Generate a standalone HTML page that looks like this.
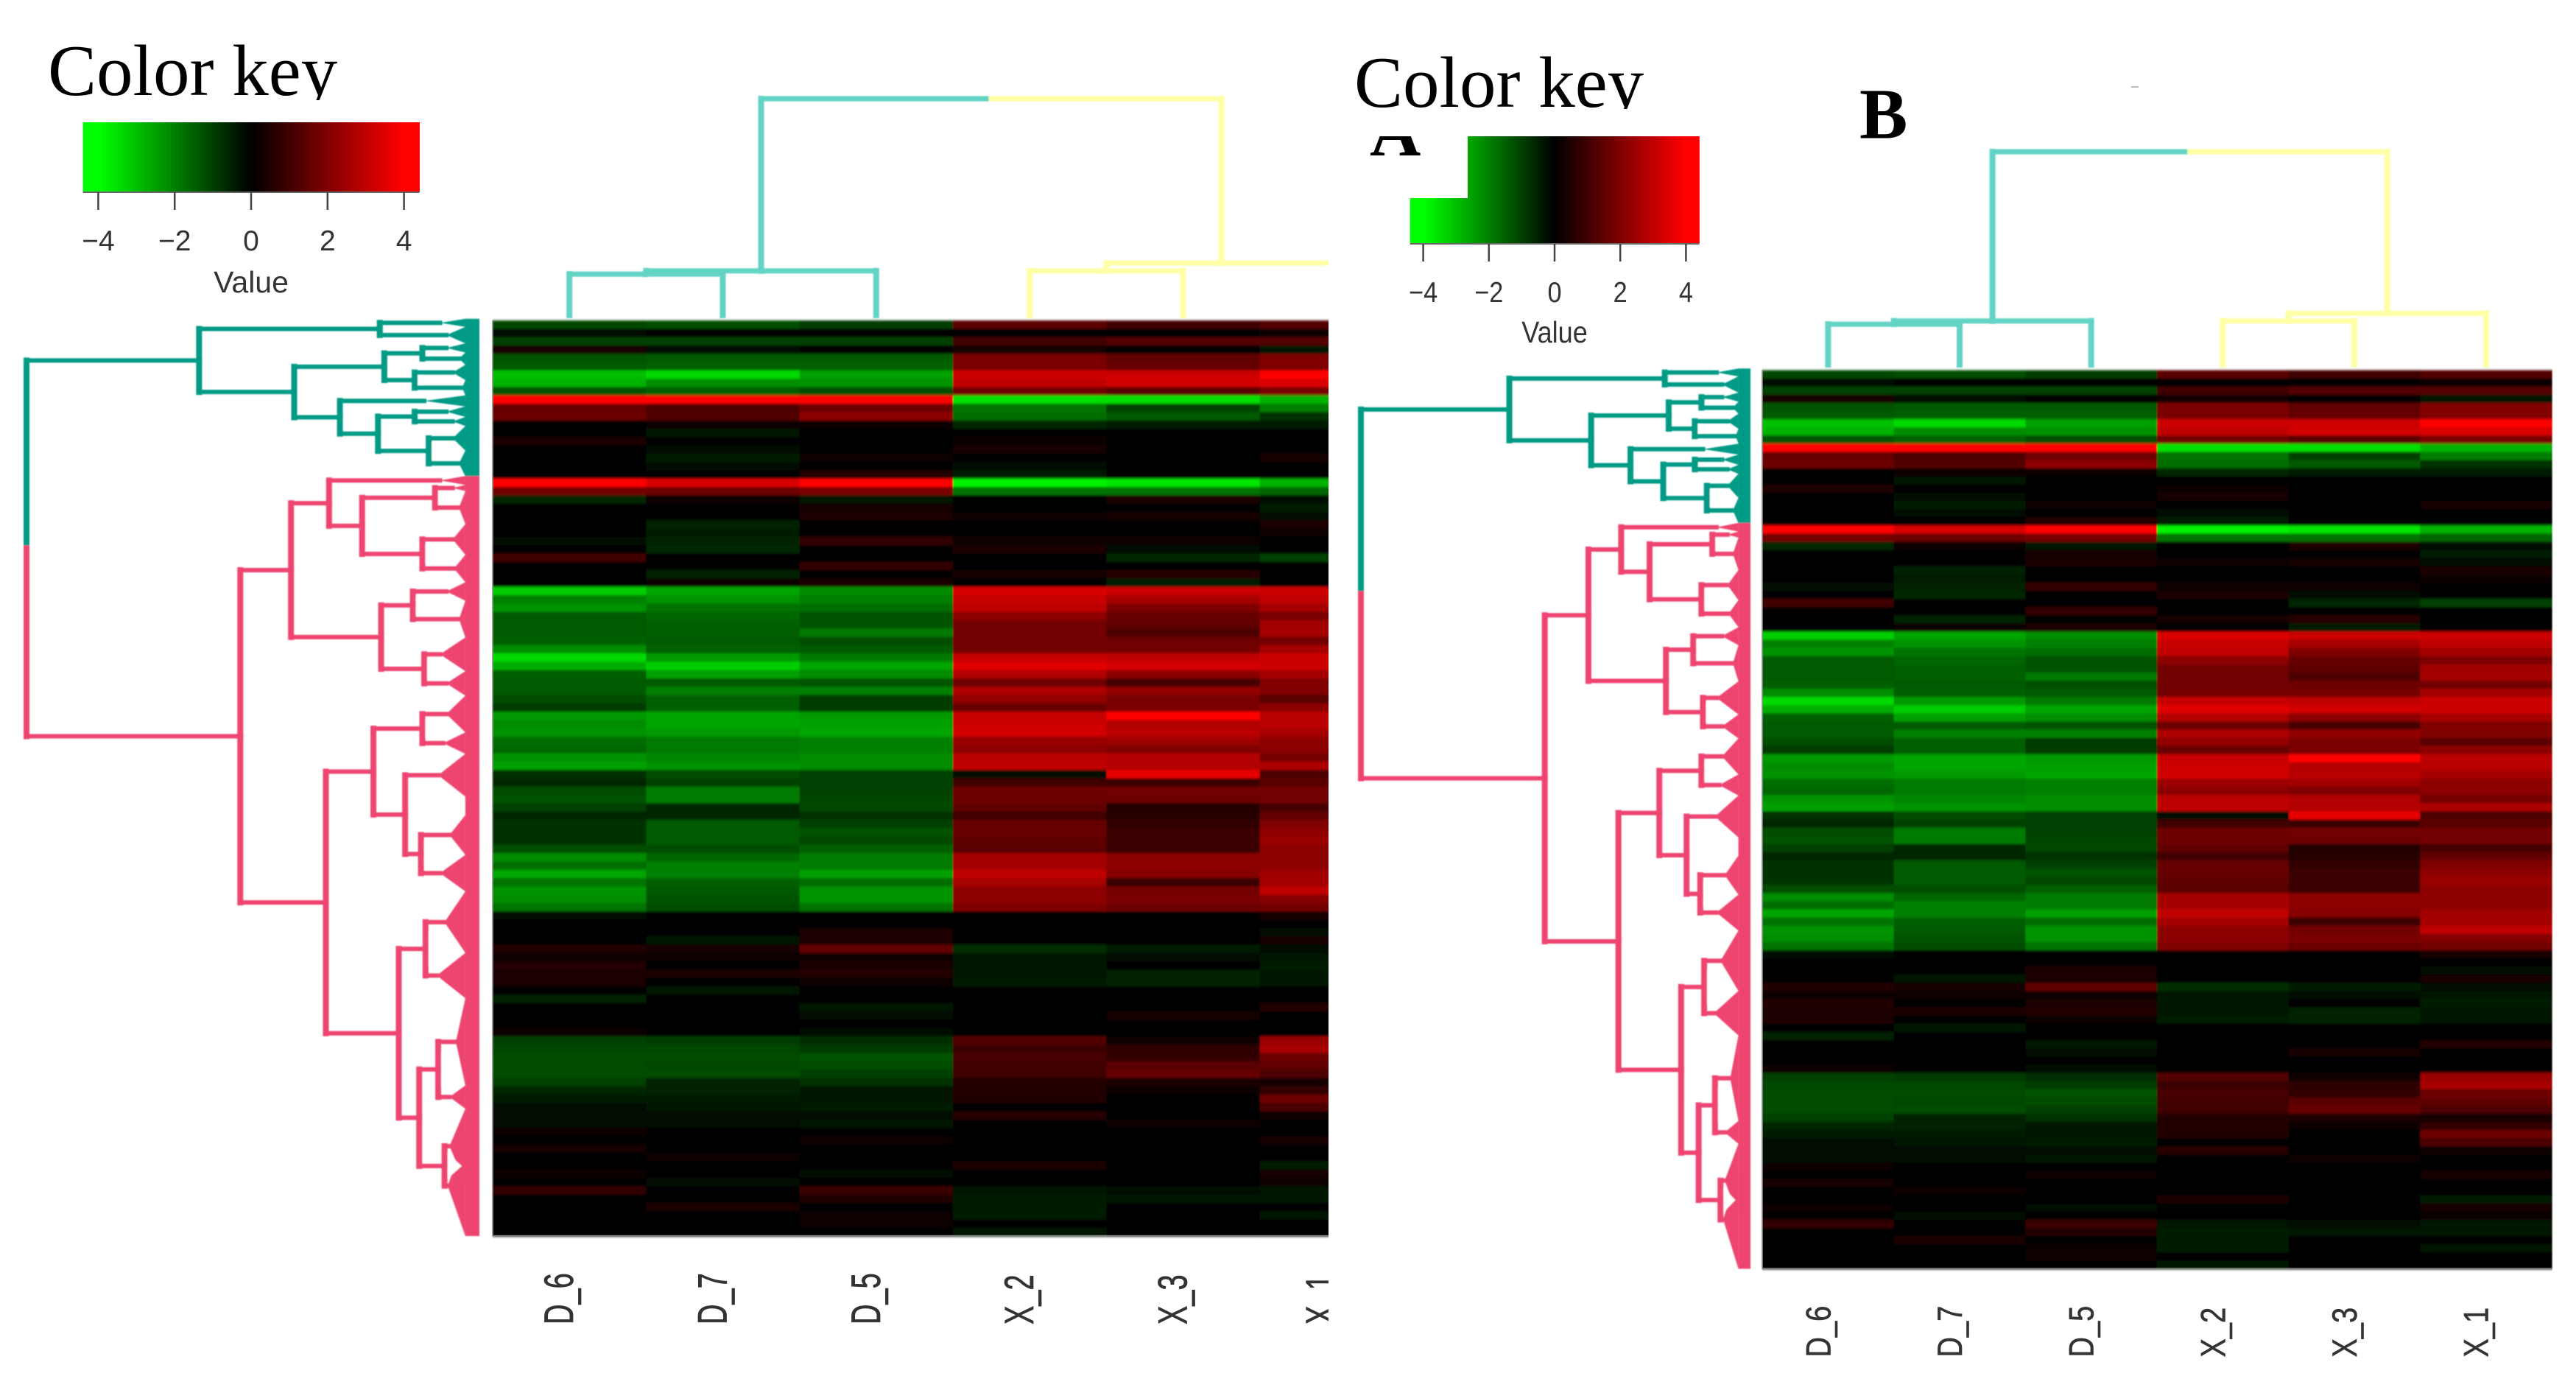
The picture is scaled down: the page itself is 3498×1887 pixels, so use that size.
<!DOCTYPE html>
<html lang="en">
<head>
<meta charset="utf-8">
<title>Heatmaps with color keys</title>
<style>
html,body{margin:0;padding:0;background:#fff;}
svg{display:block;}
</style>
</head>
<body>
<svg id="figure" xmlns="http://www.w3.org/2000/svg" width="3498" height="1887" viewBox="0 0 3498 1887">
<defs>
<filter id="soften" x="-2%" y="-2%" width="104%" height="104%"><feGaussianBlur stdDeviation="0.8 1.6"/></filter>
<filter id="soften-line" x="-5%" y="-5%" width="110%" height="110%"><feGaussianBlur stdDeviation="0.9"/></filter>
<clipPath id="clip-a"><rect x="0" y="0" width="1804" height="1887"/></clipPath>
<clipPath id="clip-title-a"><rect x="0" y="0" width="900" height="136"/></clipPath>
<clipPath id="clip-title-b"><rect x="1815" y="0" width="500" height="148"/></clipPath>
<clipPath id="clip-letter-a"><rect x="1840" y="185" width="120" height="40"/></clipPath>
</defs>
<rect x="0" y="0" width="3498" height="1887" fill="#ffffff"/>
<rect x="2894" y="117" width="10" height="2" fill="#bbbbbb"/>
</svg>
<script>
const sampleLabels = ["D_6","D_7","D_5","X_2","X_3","X_1"];
const keyTicks = [-4,-2,0,2,4];
const expressionMatrix = [
[-1.1,-1.2,-.9,1.4,1,1.3],[-.2,-.1,-.1,.1,.1,.2],[-1,-1,-1,1,1.3,1.3],[.3,-.2,-.1,.3,0,-.3],
[-1.3,-1.4,-1.4,1.9,1.5,2],[-1.4,-1.5,-1.5,1.9,1.6,2],[-3,-3.4,-2.5,3.2,3.2,4],[-2.8,-2.2,-2.3,3,3.3,3.4],
[-1.3,-1.5,-1.2,1.8,1.4,1.9],[4,4,4,-3.5,-3.5,-2.8],[1.6,1.2,1.7,-1.8,-1,-2],[1.7,1.3,2.2,-1.7,-1.4,-.8],
[.1,.2,.2,-.6,-.4,-.4],[0,-.3,0,.1,-.1,.1],[.4,-.1,.1,.2,0,-.1],[0,-.15,.1,.3,0,0],
[0,-.4,.2,-.1,0,.3],[0,-.2,.1,-.2,0,.1],[0,0,.5,-.4,0,0],[4,3.4,4,-3.8,-3.6,-2.8],
[1.8,1.7,1.9,-1.8,-1.8,-1.6],[-.6,.2,-.3,0,.4,-.2],[0,.1,.3,0,.1,-.4],[0,0,.4,.2,.3,-.2],
[-.1,-.5,0,0,0,.4],[0,-.4,0,.1,.1,.2],[-.2,-.5,.8,.2,.2,.1],[0,-.6,0,.4,-.2,0],
[1,.1,.1,0,-.6,-1],[0,.1,.8,0,.1,0],[0,-.5,-.1,.3,.6,-.1],[0,.2,.4,0,-.4,0],
[-3.2,-2.6,-2.2,3.4,3.2,3.2],[-2,-2.3,-2,3.1,2.6,3],[-2.3,-1.8,-1.7,3,2,2.6],[-1.4,-1.6,-1.3,2.2,1.6,1.9],
[-1.4,-1.5,-1.3,1.8,1.5,2.5],[-1.4,-1.5,-1.9,1.8,1.2,2.6],[-1.5,-1.4,-1.2,1.8,1.7,1.8],[-2.2,-1.5,-1.4,1.8,1.8,2.6],
[-3.4,-2.4,-1.9,3.1,3,3.2],[-2.7,-3.2,-2.6,3.5,3.3,3.2],[-1.5,-2.5,-2.2,2.8,2.2,2.6],[-1.4,-1.4,-1.3,1.7,1.1,2],
[-1.4,-2,-2,2.7,2.3,2],[-1.2,-1.5,-.9,2.3,1.9,1.4],[-.9,-1.5,-.9,1.6,1.9,2.2],[-2.4,-2.6,-2.4,3.1,4,2.9],
[-2.2,-2.6,-2.5,3.2,2.8,2.9],[-2.3,-2.4,-2.6,3.3,2.9,2.6],[-1.7,-1.9,-2,2.4,2.5,2.2],[-1.6,-1.9,-2,2.2,2,2.2],
[-2.3,-2.1,-2.2,2.9,2.8,1.8],[-2.5,-2.3,-2.2,3,2.8,2.7],[-.8,-1.2,-1,-.2,3.6,1.2],[-.6,-1,-1,1,.9,1.4],
[-1.2,-1.9,-1,1.7,1.8,1.8],[-1.3,-1.9,-1.1,1.7,1.7,1.8],[-1,-.6,-1.1,1.5,.5,1.1],[-.6,-.6,-.8,1,.6,1.5],
[-.8,-1.4,-1,1.6,.8,2],[-.8,-1.4,-1.3,1.6,.9,2.2],[-.8,-1.4,-1.1,1.5,.9,2.4],[-1.2,-1.2,-1.5,1.4,.9,2.2],
[-2.2,-1.6,-1.9,2.6,2.2,2.2],[-1.7,-2,-1.9,2.6,2.2,2.2],[-2.6,-2,-2.5,3,2.1,2.5],[-1.8,-1.5,-1.7,2.6,.9,2.6],
[-2.3,-1.4,-2.3,2.2,1.8,3],[-2.2,-1.3,-2.3,2.2,1.9,2.1],[-1.8,-1.2,-1.8,2,1.7,1.8],[-.2,.1,0,0,.1,.3],
[0,0,0,-.1,0,.1],[0,.1,.4,-.1,.1,-.2],[0,-.3,.4,-.1,0,.3],[.5,.3,1.5,-.7,-.4,-.2],
[.2,.2,.2,-.3,-.2,-.3],[.5,0,.4,-.3,0,-.4],[.4,.4,.5,-.3,-.5,-.3],[.4,0,.2,-.4,-.5,-.3],
[0,-.3,0,0,.1,.1],[-.5,0,0,0,.1,0],[0,0,-.3,-.1,0,.5],[-.1,0,-.2,0,.3,.1],
[0,0,-.1,0,0,0],[.2,0,-.2,-.1,0,0],[-1,-.9,-.7,1.3,.2,2.4],[-1.1,-1.1,-.9,.9,.7,2.6],
[-1.2,-1.2,-1.3,1.1,.8,1.7],[-1.2,-1.1,-1.2,1,1.4,1.5],[-1.2,-1.2,-1,1,1.6,1.2],[-1,-.5,-.8,.5,.4,.3],
[-.6,-.5,-.3,.5,.2,.8],[-.4,-.4,-.3,.5,.1,1.7],[-.2,-.3,-.4,.1,0,1.2],[-.2,-.2,-.2,.6,0,.2],
[-.2,-.2,-.3,.1,.2,.1],[.2,0,-.1,-.1,.1,-.1],[0,.1,.2,-.1,-.1,.3],[.3,.1,0,-.1,0,0],
[0,.2,0,-.1,0,0],[-.1,0,0,.4,0,-.4],[.2,0,-.2,0,0,.3],[0,-.2,-.1,0,0,.2],
[.8,0,.9,-.3,-.2,-.3],[.1,0,.5,-.4,-.3,-.3],[0,.4,0,-.4,0,-.1],[0,0,.2,-.4,.1,-.3],
[0,0,.2,0,.1,0],[.1,0,.1,-.3,0,0]
];

function n(h,a,b){return {h:h,a:a,b:b};}
function t(h,from,to){return {h:h,from:from,to:to};}
function leaf(col){return {h:0,col:col};}

/* Sample dendrogram: merge heights (0..1) */
const columnTree = n(1,
  n(.205, n(.19, leaf(0), leaf(1)), leaf(2)),
  n(.241, n(.205, leaf(3), leaf(4)), leaf(5)));

/* Gene dendrogram: merge heights (0..1) and leaf clusters spanning row indices */
const rowTree = n(1,
  n(.619,
    n(.22, t(.087,-.2,.77), t(.073,.77,2.75)),
    n(.409,
      n(.21, n(.126,t(.073,2.75,3.86),t(.045,3.86,5.33)), n(.143,t(.059,5.33,7.17),t(.038,7.17,9))),
      n(.308, t(.122,9,10.33),
        n(.224, n(.143,t(.073,10.33,11.59),t(.059,11.59,12.69)), n(.112,t(.059,12.69,15.63),t(.045,15.63,18.73)))))),
  n(.528,
    n(.416,
      n(.332, t(.087,18.7,19.76),
        n(.259, n(.098,t(.059,19.76,20.5),t(.045,20.5,24.47)), n(.126,t(.059,24.47,28.15),t(.056,28.15,31.46)))),
      n(.217, n(.147,t(.073,31.46,33.67),t(.045,33.67,38.09)), n(.122,t(.087,38.09,42.14),t(.073,42.14,45.08)))),
    n(.339,
      n(.234, n(.126,t(.073,45.08,49.49),t(.08,49.49,52.07)),
        n(.164, t(.091,52.07,57.2), n(.129,t(.066,59.43,64.2),t(.087,64.2,68.6)))),
      n(.178, n(.119,t(.077,68.6,75.99),t(.094,75.99,81.43)),
        n(.133, n(.091,t(.052,81.43,91.9),t(.066,91.9,94.7)), n(.077,t(.066,94.7,103.7),t(.07,97.93,110)))))));

const clusterSplitRow = 18.7;

const SVGNS = 'http://www.w3.org/2000/svg';
const root = document.getElementById('figure');

function make(tag, parent, attrs, text){
  const el = document.createElementNS(SVGNS, tag);
  for (const k in attrs) el.setAttribute(k, attrs[k]);
  if (text !== undefined) el.textContent = text;
  parent.appendChild(el);
  return el;
}

function heatColor(v){
  const i = Math.min(255, Math.round(Math.abs(v) * 64));
  return v >= 0 ? 'rgb(' + i + ',0,0)' : 'rgb(0,' + i + ',0)';
}

function drawPanel(cfg){
  const panel = make('g', root, cfg.clip ? {'clip-path':'url(#' + cfg.clip + ')'} : {});
  
  

  const colW = cfg.heatW / sampleLabels.length;
  const rowH = cfg.heatH / expressionMatrix.length;
  const xCol = c => cfg.heatX + c * colW;
  const yRow = r => cfg.heatY + r * rowH;
  const xKey = v => cfg.keyZeroX + v * cfg.keyUnit;
  const xRowH = h => cfg.rowRight - h * (cfg.rowRight - cfg.rowRoot);
  const yColH = h => cfg.colBase - h * (cfg.colBase - cfg.colTop);
  const bandX = xRowH(.031);

  /* heatmap */
  const heat = make('g', panel, {filter:'url(#soften)'});
  
  
  expressionMatrix.forEach((row, r) => {
    row.forEach((v, c) => {
      const cell = make('rect', heat, {x:xCol(c), y:yRow(r), width:colW + .6, height:rowH + .6, fill:heatColor(v)});
      
      
    });
  });
  const heatBottom = make('line', panel, {x1:cfg.heatX, y1:cfg.heatY + cfg.heatH, x2:cfg.heatX + cfg.heatW, y2:cfg.heatY + cfg.heatH, stroke:'#8a8a8a', 'stroke-width':2});
  
  
  const heatLeft = make('line', panel, {x1:cfg.heatX, y1:cfg.heatY, x2:cfg.heatX, y2:cfg.heatY + cfg.heatH, stroke:'#8a8a8a', 'stroke-width':1.5});
  
  

  /* column labels */
  sampleLabels.forEach((label, c) => {
    const lx = xCol(c + .5) + cfg.labelDx + (c === 5 ? cfg.lastLabelShift : 0);
    const txt = make('text', panel, {
      transform:'translate(' + lx + ',' + cfg.labelY + ') rotate(-90) scale(1,' + cfg.labelStretch + ')',
      'font-family':'"Liberation Sans", sans-serif', 'font-size':38, fill:'#333333', stroke:'#333333', 'stroke-width':.5
    }, label);
    
    
  });

  /* column dendrogram */
  const colDend = make('g', panel, {filter:'url(#soften-line)', fill:'none', 'stroke-linecap':'square'});
  
  
  function colPos(node){
    return node.a ? (colPos(node.a) + colPos(node.b)) / 2 : xCol(node.col + .5);
  }
  function colSegment(x1, y1, x2, y2, color){
    const seg = make('line', colDend, {x1:x1, y1:y1, x2:x2, y2:y2, stroke:color, 'stroke-width':x1 === x2 ? 8 : 7});
    
    
  }
  function drawCol(node, color){
    if (!node.a) return;
    const xa = colPos(node.a), xb = colPos(node.b), y = yColH(node.h), mid = (xa + xb) / 2;
    const ca = color || '#62d3c4', cb = color || '#ffffa6';
    colSegment(xa, y, mid, y, ca);
    colSegment(mid, y, xb, y, cb);
    colSegment(xa, y, xa, yColH(node.a.h), ca);
    colSegment(xb, y, xb, yColH(node.b.h), cb);
    drawCol(node.a, ca);
    drawCol(node.b, cb);
  }
  drawCol(columnTree, null);

  /* row dendrogram */
  const rowDend = make('g', panel, {filter:'url(#soften-line)'});
  
  
  function rowPos(node){
    return node.a ? (rowPos(node.a) + rowPos(node.b)) / 2 : (node.from + node.to) / 2;
  }
  function drawFans(node, color){
    if (node.a){
      const ca = color || '#009a85', cb = color || '#ee4470';
      drawFans(node.a, ca);
      drawFans(node.b, cb);
      return;
    }
    const pts = [xRowH(node.h) + ',' + yRow(rowPos(node)), bandX + ',' + yRow(node.from), bandX + ',' + yRow(node.to)].join(' ');
    const fan = make('polygon', rowDend, {points:pts, fill:color});
    
    
  }
  function drawPockets(node){
    if (!node.a) return;
    drawPockets(node.a);
    drawPockets(node.b);
    const y1 = yRow(rowPos(node.a)), y2 = yRow(rowPos(node.b)), d = y2 - y1;
    if (!node.a.a && !node.b.a && d > 20){
      const x = xRowH(node.h) + 4;
      const reach = Math.min(.8 * (bandX - x), 38);
      const pts = [x + ',' + (y1 + d * .18), x + ',' + (y2 - d * .18), (x + reach) + ',' + ((y1 + y2) / 2)].join(' ');
      const pocket = make('polygon', rowDend, {points:pts, fill:'#ffffff'});
      
      
    }
  }
  function rowSegment(x1, y1, x2, y2, color){
    const w = x1 === x2 ? cfg.rowVert : cfg.rowHoriz;
    const seg = make('line', rowDend, {x1:x1, y1:y1, x2:x2, y2:y2, stroke:color, 'stroke-width':w, 'stroke-linecap':'square'});
    
    
  }
  function drawRow(node, color){
    if (!node.a) return;
    const ya = yRow(rowPos(node.a)), yb = yRow(rowPos(node.b)), x = xRowH(node.h), mid = (ya + yb) / 2;
    const ca = color || '#009a85', cb = color || '#ee4470';
    rowSegment(x, ya, x, mid, ca);
    rowSegment(x, mid, x, yb, cb);
    rowSegment(x, ya, xRowH(node.a.h), ya, ca);
    rowSegment(x, yb, xRowH(node.b.h), yb, cb);
    drawRow(node.a, ca);
    drawRow(node.b, cb);
  }
  drawFans(rowTree, null);
  drawPockets(rowTree);
  drawRow(rowTree, null);
  const bandTop = make('rect', rowDend, {x:bandX, y:yRow(-.2), width:cfg.rowRight - bandX, height:yRow(clusterSplitRow) - yRow(-.2), fill:'#009a85'});
  
  
  const bandBottom = make('rect', rowDend, {x:bandX, y:yRow(clusterSplitRow), width:cfg.rowRight - bandX, height:yRow(110) - yRow(clusterSplitRow), fill:'#ee4470'});
  
  

  /* color key */
  const key = make('g', panel, {});
  
  
  for (let i = 0; i < 88; i++){
    const v = -4.4 + i * .1;
    const swatch = make('rect', key, {x:xKey(v), y:cfg.keyTop, width:cfg.keyUnit * .1 + .6, height:cfg.keyBottom - cfg.keyTop, fill:heatColor(v + .05)});
    
    
  }
  if (cfg.keyCut){
    const cut = make('rect', panel, {x:cfg.keyCut.x - 1, y:cfg.keyCut.y - 1, width:cfg.keyCut.w + 1, height:cfg.keyCut.h + 1, fill:'#ffffff'});
    
    
  }
  const keyBase = make('line', panel, {x1:xKey(-4.4), y1:cfg.keyBottom, x2:xKey(4.4), y2:cfg.keyBottom, stroke:'#666666', 'stroke-width':2});
  
  
  keyTicks.forEach(v => {
    const tick = make('line', panel, {x1:xKey(v), y1:cfg.keyBottom, x2:xKey(v), y2:cfg.keyBottom + 24, stroke:'#444444', 'stroke-width':2.5});
    
    
    const lab = make('text', panel, {
      transform:'translate(' + xKey(v) + ',' + cfg.keyLabelY + ') scale(' + cfg.keyTextX + ',1)',
      'text-anchor':'middle', 'font-family':'"Liberation Sans", sans-serif', 'font-size':39, fill:'#333333'
    }, (v < 0 ? '\u2212' : '') + Math.abs(v));
    
    
  });
  const valueTitle = make('text', panel, {
    transform:'translate(' + xKey(0) + ',' + cfg.valueY + ') scale(' + cfg.keyTextX + ',1)',
    'text-anchor':'middle', 'font-family':'"Liberation Sans", sans-serif', 'font-size':41, fill:'#333333'
  }, 'Value');
  
  

  /* title */
  const title = make('text', root, {
    x:cfg.titleX, y:cfg.titleY, 'clip-path':'url(#' + cfg.titleClip + ')',
    'font-family':'"Liberation Serif", serif', 'font-size':99, fill:'#000000'
  }, 'Color key');
  
  
}

drawPanel({
  id:'panel-a', clip:'clip-a',
  heatX:669, heatY:435, heatW:1250, heatH:1243,
  labelDx:5, lastLabelShift:-8, labelY:1798, labelStretch:1.47,
  rowRight:651, rowRoot:36, rowVert:8, rowHoriz:6,
  colBase:428, colTop:134,
  keyZeroX:341, keyUnit:51.9, keyTop:166, keyBottom:261, keyLabelY:340, valueY:397, keyTextX:1,
  titleX:65, titleY:129, titleClip:'clip-title-a'
});

drawPanel({
  id:'panel-b',
  heatX:2393, heatY:502.5, heatW:1072, heatH:1220,
  labelDx:3, lastLabelShift:0, labelY:1842.5, labelStretch:1.24,
  rowRight:2377, rowRoot:1848, rowVert:8, rowHoriz:6,
  colBase:495, colTop:206,
  keyZeroX:2111, keyUnit:44.6, keyTop:185, keyBottom:331, keyLabelY:410, valueY:465, keyTextX:.88,
  keyCut:{x:1915, y:185, w:78, h:84},
  titleX:1839, titleY:145, titleClip:'clip-title-b'
});

const letterA = make('text', root, {
  x:1860, y:211, 'clip-path':'url(#clip-letter-a)',
  'font-family':'"Liberation Serif", serif', 'font-weight':'bold', 'font-size':96, fill:'#000000'
}, 'A');



const letterB = make('text', root, {
  x:2525, y:187.5,
  'font-family':'"Liberation Serif", serif', 'font-weight':'bold', 'font-size':98, fill:'#000000'
}, 'B');


</script>
</body>
</html>
